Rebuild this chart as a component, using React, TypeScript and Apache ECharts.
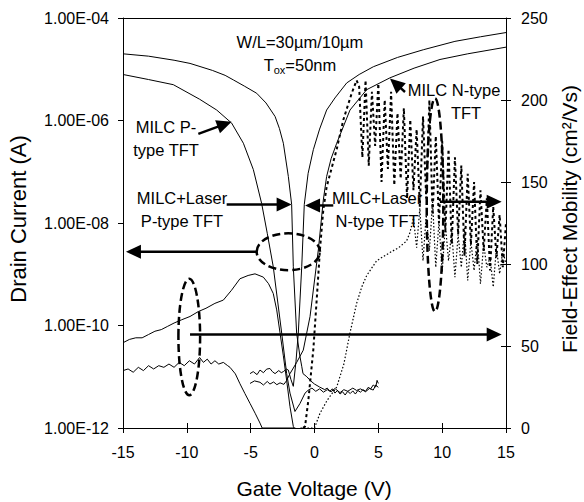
import React, { useEffect, useRef } from "react";
import * as echarts from "echarts";

// ---------- axes ----------
const GATE_MIN = -15;
const GATE_MAX = 15;
const GATE_STEP = 5;
const CURRENT_TICKS = [1e-12, 1e-10, 1e-8, 1e-6, 1e-4];
const CURRENT_TICK_LABELS = ["1.00E-12", "1.00E-10", "1.00E-08", "1.00E-06", "1.00E-04"];
const MOBILITY_MIN = 0;
const MOBILITY_MAX = 250;
const MOBILITY_STEP = 50;

// ---------- drain current (A) vs gate voltage (V) ----------
const milcLaserP_current: [number, number][] = [
  [-15, 2.0e-5], [-13, 1.8e-5], [-11, 1.5e-5], [-9.75, 1.3e-5], [-8, 9.5e-6], [-7, 7.6e-6],
  [-6.36, 6.2e-6], [-5.5, 4.7e-6], [-4.53, 3.4e-6], [-3.8, 2.2e-6], [-3.09, 1.2e-6], [-2.75, 7.0e-7],
  [-2.44, 3.6e-7], [-2.05, 8.1e-8], [-1.79, 2.3e-8], [-1.66, 1.4e-9], [-1.4, 7.1e-11], [-1.14, 2.5e-11],
  [-1.0, 1.6e-11], [-0.9, 1.15e-11], [-0.6, 1.0e-11], [-0.3, 8.3e-12], [0, 7.2e-12], [0.4, 6.3e-12],
  [0.8, 5.6e-12], [1.0, 6.0e-12], [1.2, 5.2e-12], [1.4, 5.8e-12], [1.6, 4.8e-12], [1.8, 5.4e-12],
  [2.0, 4.6e-12], [2.2, 5.1e-12], [2.4, 4.4e-12], [2.6, 5.2e-12], [2.8, 4.7e-12], [3.0, 5.3e-12],
  [3.2, 4.6e-12], [3.4, 5.4e-12], [3.6, 5.0e-12], [3.8, 5.6e-12], [4.0, 5.2e-12], [4.2, 6.2e-12],
  [4.4, 5.8e-12], [4.6, 6.9e-12], [4.8, 6.3e-12], [4.9, 8.5e-12], [5.0, 7.4e-12],
];
const milcP_current: [number, number][] = [
  [-15, 7.9e-6], [-13, 6.3e-6], [-11.06, 5.0e-6], [-9, 2.6e-6], [-7.66, 1.6e-6], [-6.49, 8.9e-7],
  [-5.57, 3.6e-7], [-4.79, 1.1e-7], [-4.14, 2.4e-8], [-3.7, 6.3e-9], [-3.23, 1.4e-9], [-2.57, 7.1e-11],
  [-2.18, 1.15e-11], [-1.92, 4.8e-12], [-1.53, 2.1e-12], [-1.14, 3.0e-12], [-0.74, 4.8e-12], [-0.48, 5.5e-12],
  [-0.2, 6.0e-12], [0.1, 5.2e-12], [0.4, 5.8e-12], [0.7, 5.0e-12], [1.0, 5.6e-12], [1.3, 5.1e-12],
  [1.6, 5.9e-12], [2.0, 4.9e-12], [2.3, 5.6e-12], [2.6, 5.2e-12], [3.0, 6.0e-12], [3.3, 5.4e-12],
  [3.6, 5.8e-12], [4.0, 5.1e-12], [4.3, 5.9e-12], [4.6, 5.5e-12], [4.8, 6.9e-12], [5.0, 6.2e-12],
];
const milcLaserN_current: [number, number][] = [
  [-5.05, 1.15e-11], [-4.8, 1.26e-11], [-4.5, 1.1e-11], [-4.27, 1.35e-11], [-4.0, 1.2e-11], [-3.75, 1.41e-11],
  [-3.49, 1.45e-11], [-3.3, 1.26e-11], [-3.09, 1.15e-11], [-2.8, 1.32e-11], [-2.6, 1.2e-11], [-2.44, 1.26e-11],
  [-2.2, 1.41e-11], [-2.05, 1.35e-11], [-1.85, 8.9e-12], [-1.66, 6.5e-12], [-1.45, 2.0e-11], [-1.27, 7.1e-11],
  [-1.0, 1.4e-9], [-0.8, 2.3e-8], [-0.5, 9.3e-8], [-0.09, 2.7e-7], [0.4, 6.8e-7], [0.95, 1.6e-6],
  [1.6, 2.75e-6], [2.52, 5.4e-6], [3.5, 7.9e-6], [4.61, 1.12e-5], [6.5, 1.7e-5], [8.52, 2.4e-5],
  [11, 3.5e-5], [13, 4.3e-5], [15, 5.2e-5],
];
const milcN_current: [number, number][] = [
  [-5.05, 7.4e-12], [-4.7, 8.3e-12], [-4.27, 7.8e-12], [-4.0, 6.9e-12], [-3.7, 8.1e-12], [-3.49, 7.2e-12],
  [-3.2, 7.9e-12], [-2.95, 7.0e-12], [-2.7, 7.6e-12], [-2.4, 7.1e-12], [-2.2, 8.3e-12], [-1.92, 1.15e-11],
  [-1.4, 1.9e-11], [-0.88, 3.3e-11], [-0.35, 1.5e-10], [0.3, 3.0e-9], [0.69, 2.8e-8], [0.95, 8.1e-8],
  [1.3, 1.8e-7], [1.74, 3.6e-7], [2.78, 1.6e-6], [4.09, 4.0e-6], [5.91, 6.8e-6], [7.8, 1.05e-5],
  [9.83, 1.55e-5], [12, 2.0e-5], [15, 2.7e-5],
];

// ---------- field-effect mobility (cm2/Vs) vs gate voltage (V) ----------
const pTypeMobilityA: [number, number][] = [
  [-15, 52], [-14.5, 54], [-14, 55], [-13.5, 55], [-13, 57], [-12.5, 59], [-12, 60], [-11.5, 62], [-11, 64],
  [-10.4, 66], [-9.75, 68], [-9.1, 71], [-8.5, 73], [-7.8, 76], [-7.14, 78], [-6.5, 84], [-5.84, 91],
  [-5.2, 93], [-4.66, 94], [-4.01, 92], [-3.6, 88], [-3.23, 82], [-2.96, 72], [-2.7, 58], [-2.44, 44],
  [-2.18, 29], [-1.92, 13], [-1.66, 1], [-1.6, 0],
];
const pTypeMobilityB: [number, number][] = [
  [-15, 35], [-14.6, 36], [-14.2, 34], [-13.8, 37], [-13.4, 35], [-13, 38], [-12.6, 36], [-12.2, 38],
  [-11.8, 37], [-11.4, 39], [-11, 37], [-10.6, 40], [-10.2, 38], [-9.8, 41], [-9.4, 39], [-9, 43],
  [-8.7, 40], [-8.4, 42], [-8.1, 39], [-7.8, 41], [-7.5, 39], [-7.14, 40], [-6.8, 38], [-6.62, 37],
  [-6.2, 33], [-5.84, 27], [-5.45, 21], [-5.05, 15], [-4.65, 9], [-4.27, 3], [-4.1, 0], [-1.5, 0],
];
const nTypeMobilityA: [number, number][] = [
  [-0.9, 0], [-0.74, 1], [-0.48, 17], [-0.09, 48], [0.17, 78], [0.43, 109], [0.69, 133], [0.95, 147],
  [1.74, 170], [2.26, 188], [2.91, 204], [3.3, 212], [3.5, 208], [3.75, 165], [4.0, 212], [4.25, 160],
  [4.5, 205], [4.75, 172], [5.0, 210], [5.25, 150], [5.5, 200], [5.75, 158], [6.0, 205], [6.25, 148],
  [6.5, 192], [6.75, 152], [7.0, 195], [7.25, 140], [7.5, 188], [7.75, 145], [8.0, 182], [8.25, 135],
  [8.5, 190], [8.75, 140], [9.0, 200], [9.25, 130], [9.5, 178], [9.75, 125], [10.0, 175], [10.25, 120],
  [10.5, 170], [10.75, 112], [11.0, 165], [11.25, 118], [11.5, 160], [11.75, 105], [12.0, 155], [12.25, 112],
  [12.5, 150], [12.75, 100], [13.0, 145], [13.25, 108], [13.5, 140], [13.75, 96], [14.0, 135], [14.25, 104],
  [14.5, 130], [14.75, 98], [15.0, 125],
];
const nTypeMobilityB: [number, number][] = [
  [-1.1, 0], [0, 0], [0.43, 9], [1.0, 17], [1.74, 25], [2.3, 39], [2.78, 58], [3.3, 76], [3.7, 86],
  [4.09, 93], [4.87, 102], [5.91, 107], [6.6, 110], [7.21, 114], [7.47, 119], [7.75, 128], [8.0, 110],
  [8.25, 134], [8.5, 102], [8.75, 130], [9.0, 108], [9.25, 138], [9.5, 98], [9.75, 126], [10.0, 95],
  [10.25, 124], [10.5, 102], [10.75, 120], [11.0, 92], [11.25, 118], [11.5, 98], [11.75, 122], [12.0, 90],
  [12.25, 114], [12.5, 96], [12.75, 116], [13.0, 88], [13.25, 112], [13.5, 98], [13.75, 104], [14.0, 86],
  [14.25, 110], [14.5, 94], [14.75, 108], [15.0, 100],
];

// ---------- annotations (in data units) ----------
const NOTE_TEXTS = [
  { axis: 0, at: [-1.14, 3.4e-5], text: "W/L=30µm/10µm" },
  { axis: 0, at: [-11.63, 4.47e-7], text: "MILC P-\ntype TFT" },
  { axis: 0, at: [-10.38, 1.86e-8], text: "MILC+Laser\nP-type TFT" },
  { axis: 0, at: [4.9, 1.86e-8], text: "MILC+Laser\nN-type TFT" },
  { axis: 0, at: [10.93, 4.0e-6], text: "MILC N-type" },
  { axis: 0, at: [11.87, 1.41e-6], text: "TFT" },
];
const TOX_AT = [-1.14, 1.2e-5];
const NOTE_ARROWS = [
  { axis: 0, from: [-9.1, 5.5e-7], to: [-6.49, 9.5e-7] },
  { axis: 0, from: [-6.88, 2.3e-8], to: [-1.79, 2.3e-8] },
  { axis: 0, from: [1.47, 2.2e-8], to: [-0.74, 2.2e-8] },
  { axis: 0, from: [7.09, 3.6e-6], to: [5.91, 6.6e-6] },
  { axis: 0, from: [-4.53, 2.75e-9], to: [-14.77, 2.75e-9] },
  { axis: 1, from: [-9.75, 57], to: [14.66, 57] },
  { axis: 1, from: [9.83, 138], to: [14.66, 138] },
];
// ellipses: [xMin, xMax, yMin, yMax]
const NOTE_ELLIPSES = [
  { axis: 0, box: [-4.53, 0.43, 1.2e-9, 6.3e-9] },
  { axis: 1, box: [-10.66, -8.96, 20, 91] },
  { axis: 1, box: [8.79, 10.09, 71, 201] },
];

export default function App() {
  const ref = useRef<HTMLDivElement>(null);
  useEffect(() => {
    const el = ref.current!;
    const chart = echarts.init(el, undefined, { renderer: "svg" });
    const black = "#000";
    const axisFont = "'Liberation Sans', Arial, sans-serif";
    const noteFont = "'Liberation Sans', Arial, sans-serif";
    const noteSize = 16.5;

    const currentLine = (name: string, data: [number, number][]) => ({
      name, type: "line", data, xAxisIndex: 0, yAxisIndex: 0, symbol: "none", silent: true,
      lineStyle: { color: black, width: 1 }, z: 3,
    });
    const mobilityLine = (name: string, data: [number, number][], lineStyle: any) => ({
      name, type: "line", data, xAxisIndex: 0, yAxisIndex: 1, symbol: "none", silent: true,
      lineStyle: { color: black, ...lineStyle }, z: 2,
    });

    const baseAxisLine = { show: true, onZero: false, lineStyle: { color: black, width: 1 } };

    chart.setOption({
      animation: false,
      backgroundColor: "#fff",
      grid: { left: 123, right: 78, top: 18, bottom: 74 },
      xAxis: [
        {
          type: "value", min: GATE_MIN, max: GATE_MAX, interval: GATE_STEP, position: "bottom",
          axisLine: baseAxisLine,
          axisTick: { show: true, length: 5, lineStyle: { color: black } },
          axisLabel: { color: black, fontSize: 16, fontFamily: axisFont, margin: 16 },
          splitLine: { show: false },
        },
        {
          type: "value", min: GATE_MIN, max: GATE_MAX, interval: GATE_STEP, position: "bottom",
          axisLine: { show: false, onZero: false },
          axisTick: { show: true, inside: true, length: 5, lineStyle: { color: black } },
          axisLabel: { show: false }, splitLine: { show: false },
        },
        {
          type: "value", min: GATE_MIN, max: GATE_MAX, position: "top",
          axisLine: baseAxisLine, axisTick: { show: false }, axisLabel: { show: false }, splitLine: { show: false },
        },
      ],
      yAxis: [
        {
          type: "log", logBase: 10, min: CURRENT_TICKS[0], max: CURRENT_TICKS[CURRENT_TICKS.length - 1],
          position: "left",
          axisLine: baseAxisLine,
          axisTick: { show: true, length: 5, customValues: CURRENT_TICKS, lineStyle: { color: black } },
          axisLabel: {
            color: black, fontSize: 16, fontFamily: axisFont, margin: 14, customValues: CURRENT_TICKS,
            formatter: (v: number) => {
              const i = CURRENT_TICKS.findIndex((t) => Math.abs(Math.log10(t) - Math.log10(v)) < 0.01);
              return i >= 0 ? CURRENT_TICK_LABELS[i] : "";
            },
          },
          splitLine: { show: false }, minorTick: { show: false },
        },
        {
          type: "value", min: MOBILITY_MIN, max: MOBILITY_MAX, interval: MOBILITY_STEP, position: "right",
          axisLine: baseAxisLine,
          axisTick: { show: true, length: 5, lineStyle: { color: black } },
          axisLabel: { color: black, fontSize: 16, fontFamily: axisFont, margin: 15 },
          splitLine: { show: false },
        },
        {
          type: "value", min: MOBILITY_MIN, max: MOBILITY_MAX, interval: MOBILITY_STEP, position: "right",
          axisLine: { show: false, onZero: false },
          axisTick: { show: true, inside: true, length: 5, lineStyle: { color: black } },
          axisLabel: { show: false }, splitLine: { show: false },
        },
      ],
      series: [
        currentLine("MILC+Laser P-type TFT", milcLaserP_current),
        currentLine("MILC P-type TFT", milcP_current),
        currentLine("MILC+Laser N-type TFT", milcLaserN_current),
        currentLine("MILC N-type TFT", milcN_current),
        mobilityLine("P-type mobility A", pTypeMobilityA, { width: 1 }),
        mobilityLine("P-type mobility B", pTypeMobilityB, { width: 1 }),
        mobilityLine("N-type mobility A", nTypeMobilityA, { width: 2, type: [3, 3] }),
        mobilityLine("N-type mobility B", nTypeMobilityB, { width: 1.2, type: [1.5, 2] }),
      ],
    });

    const px = (axis: number, p: number[]) =>
      chart.convertToPixel({ xAxisIndex: 0, yAxisIndex: axis } as any, p) as unknown as number[];

    const elements: any[] = [];
    const arrow = (a: number[], b: number[]) => {
      const dx = b[0] - a[0];
      const dy = b[1] - a[1];
      const L = Math.hypot(dx, dy) || 1;
      const ux = dx / L;
      const uy = dy / L;
      const headLen = 15;
      const half = 7;
      const base = [b[0] - ux * headLen, b[1] - uy * headLen];
      const nx = -uy;
      const ny = ux;
      elements.push({
        type: "line", z: 100, silent: true,
        shape: { x1: a[0], y1: a[1], x2: base[0] + ux * 2, y2: base[1] + uy * 2 },
        style: { stroke: black, lineWidth: 2.4 },
      });
      elements.push({
        type: "polygon", z: 100, silent: true,
        shape: { points: [[b[0], b[1]], [base[0] + nx * half, base[1] + ny * half], [base[0] - nx * half, base[1] - ny * half]] },
        style: { fill: black },
      });
    };
    NOTE_ARROWS.forEach((a) => arrow(px(a.axis, a.from), px(a.axis, a.to)));

    NOTE_ELLIPSES.forEach((e) => {
      const p1 = px(e.axis, [e.box[0], e.box[2]]);
      const p2 = px(e.axis, [e.box[1], e.box[3]]);
      elements.push({
        type: "ellipse", z: 100, silent: true,
        shape: { cx: (p1[0] + p2[0]) / 2, cy: (p1[1] + p2[1]) / 2, rx: Math.abs(p2[0] - p1[0]) / 2, ry: Math.abs(p2[1] - p1[1]) / 2 },
        style: { fill: "none", stroke: black, lineWidth: 2.5, lineDash: [8, 4] },
      });
    });

    NOTE_TEXTS.forEach((t) => {
      const p = px(t.axis, t.at);
      elements.push({
        type: "text", z: 101, silent: true, x: p[0], y: p[1],
        style: { text: t.text, fill: black, fontSize: noteSize, fontFamily: noteFont, align: "center", verticalAlign: "middle", lineHeight: 23 },
      });
    });
    const tp = px(0, TOX_AT);
    elements.push({
      type: "text", z: 101, silent: true, x: tp[0], y: tp[1],
      style: {
        text: "{a|T}{s|ox}{a|=50nm}", fill: black, align: "center", verticalAlign: "middle",
        rich: {
          a: { fontSize: noteSize, fontFamily: noteFont, lineHeight: 20, fill: black },
          s: { fontSize: 11, fontFamily: noteFont, lineHeight: 11, verticalAlign: "bottom", fill: black, padding: [4, 0, 0, 0] },
        },
      },
    });

    // axis titles
    elements.push({
      type: "text", silent: true, x: 18, y: 219, rotation: Math.PI / 2,
      style: { text: "Drain Current (A)", fill: black, fontSize: 22, fontFamily: axisFont, align: "center", verticalAlign: "middle" },
    });
    elements.push({
      type: "text", silent: true, x: 569, y: 219, rotation: Math.PI / 2,
      style: { text: "Field-Effect Mobility (cm²/Vs)", fill: black, fontSize: 21, fontFamily: axisFont, align: "center", verticalAlign: "middle" },
    });
    elements.push({
      type: "text", silent: true, x: 314, y: 488,
      style: { text: "Gate Voltage (V)", fill: black, fontSize: 21, fontFamily: axisFont, align: "center", verticalAlign: "middle" },
    });

    chart.setOption({ graphic: elements });
    return () => chart.dispose();
  }, []);
  return <div ref={ref} style={{ position: "fixed", left: 0, top: 0, width: 584, height: 502 }} />;
}
